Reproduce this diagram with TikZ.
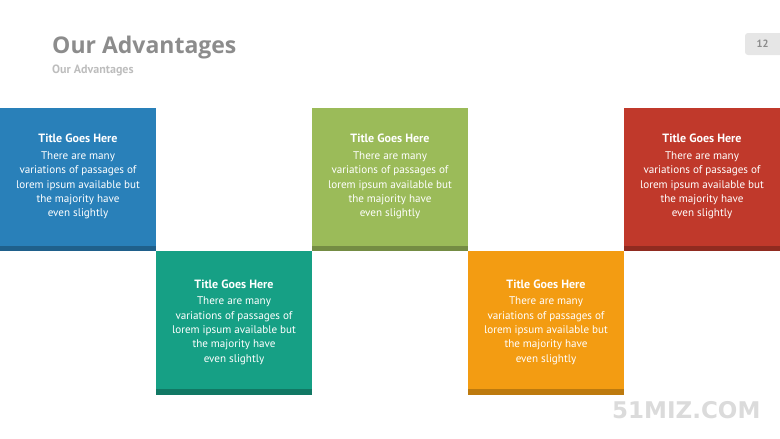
\documentclass[tikz,border=0pt]{standalone}
\usepackage{fontspec}
\setmainfont{PT Sans}
\newfontfamily\headfont{Open Sans}
\newfontfamily\markfont{DejaVu Sans}

\definecolor{cblue}{HTML}{2980B9}
\definecolor{cteal}{HTML}{16A085}
\definecolor{cgreen}{HTML}{9BBB59}
\definecolor{corange}{HTML}{F39C12}
\definecolor{cred}{HTML}{C0392B}
\definecolor{headgray}{HTML}{8C8C8C}
\definecolor{subgray}{HTML}{BDBDBD}
\definecolor{pagegray}{HTML}{E6E6E6}

\newcommand{\cardtext}{%
  {\bfseries\fontsize{12}{13}\selectfont Title Goes Here}\\[2.5pt]
  There are many\\ variations of passages of\\ lorem ipsum available but\\
  the majority have\\ even slightly}

\tikzset{
  card/.style={minimum width=156pt, minimum height=138pt, inner sep=0pt,
    text=white, align=center, font=\fontsize{11.1}{14.3}\selectfont},
  lowcard/.style={card, minimum height=134pt},
}

\begin{document}
\begin{tikzpicture}[x=1pt,y=-1pt]
  \useasboundingbox (0,0) rectangle (780,439);
  % heading
  \node[anchor=base west, inner sep=0pt, text=headgray,
    font=\headfont\bfseries\fontsize{23}{25}\selectfont] (head) at (52,53) {Our Advantages};
  \node[anchor=base west, inner sep=0pt, text=subgray,
    font=\bfseries\fontsize{12}{13}\selectfont] (subhead) at (52,73.5) {Our Advantages};
  % page number tab
  \fill[pagegray, rounded corners=3pt] (780,33) -| (745,55) -- (780,55);
  \node[text=black!45, font=\bfseries\fontsize{10.5}{11}\selectfont] (pgnum) at (762.5,43.5) {12};
  % cards, top row
  \node[card, fill=cblue] (c1) at (78,176.5) {\cardtext};
  \fill[cblue!75!black] (c1.south west) rectangle ++(156,5.5);
  \node[card, fill=cgreen] (c3) at (390,176.5) {\cardtext};
  \fill[cgreen!75!black] (c3.south west) rectangle ++(156,5.5);
  \node[card, fill=cred] (c5) at (702,176.5) {\cardtext};
  \fill[cred!75!black] (c5.south west) rectangle ++(156,5.5);
  % cards, bottom row (text sits a little lower)
  \node[lowcard, fill=cteal] (c2) at (234,322) {\cardtext};
  \fill[cteal] (c2.north west) rectangle ++(156,-4);
  \fill[cteal!75!black] (c2.south west) rectangle ++(156,6);
  \node[lowcard, fill=corange] (c4) at (546,322) {\cardtext};
  \fill[corange] (c4.north west) rectangle ++(156,-4);
  \fill[corange!78!black] (c4.south west) rectangle ++(156,6);
  % watermark
  \node[anchor=base west, inner sep=0pt, text=black!14,
    font=\markfont\bfseries\fontsize{23}{24}\selectfont] (mark) at (612,418.5) {51MIZ.COM};
\end{tikzpicture}
\end{document}
